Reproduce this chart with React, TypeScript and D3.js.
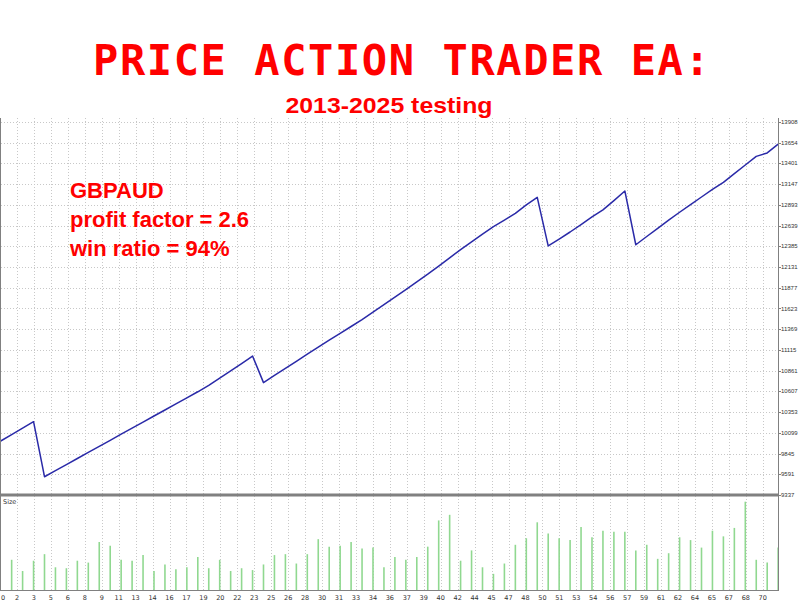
import React from 'react';
import * as d3 from 'd3';

// Balance after each trade (trade 0 = start)
const balance = [
  9999, 10077, 10157, 10235, 9561, 9636, 9710, 9784, 9859, 9933,
  10007, 10082, 10156, 10230, 10305, 10379, 10453, 10528, 10602, 10680,
  10770, 10858, 10948, 11040, 10714, 10802, 10889, 10976, 11063, 11148,
  11235, 11319, 11402, 11487, 11578, 11669, 11761, 11855, 11949, 12043,
  12143, 12244, 12344, 12439, 12533, 12626, 12705, 12788, 12892, 12985,
  12389, 12474, 12560, 12651, 12744, 12832, 12945, 13063, 12404, 12505,
  12605, 12705, 12802, 12896, 12989, 13081, 13169, 13275, 13381, 13487,
  13529, 13637,
];

// Lot size of trades 1..71
const sizes = [
  0.33, 0.21, 0.32, 0.39, 0.25, 0.24, 0.32, 0.30, 0.52, 0.48,
  0.33, 0.32, 0.38, 0.21, 0.28, 0.23, 0.25, 0.36, 0.24, 0.33,
  0.21, 0.24, 0.22, 0.28, 0.38, 0.39, 0.29, 0.39, 0.55, 0.47,
  0.48, 0.52, 0.45, 0.46, 0.25, 0.36, 0.33, 0.36, 0.47, 0.75,
  0.81, 0.32, 0.43, 0.25, 0.18, 0.29, 0.49, 0.56, 0.73, 0.61,
  0.56, 0.54, 0.68, 0.57, 0.64, 0.63, 0.63, 0.43, 0.49, 0.34,
  0.40, 0.57, 0.54, 0.46, 0.64, 0.58, 0.67, 0.95, 0.33, 0.30,
  0.46,
];

const yTicks = [
  9337, 9591, 9845, 10099, 10353, 10607, 10861, 11115, 11369, 11623,
  11877, 12131, 12385, 12639, 12893, 13147, 13401, 13654, 13908,
];

const xTickLabels = [
  '0', '2', '3', '5', '6', '8', '9', '11', '13', '14', '16', '17', '19', '20',
  '22', '23', '25', '26', '28', '30', '31', '33', '34', '36', '37', '39', '40',
  '42', '44', '45', '47', '48', '50', '51', '53', '54', '56', '57', '59', '61',
  '62', '64', '65', '67', '68', '70',
];

const infoLines = ['GBPAUD', 'profit factor = 2.6', 'win ratio = 94%'];

const W = 800;
const H = 600;
const AXIS_X = 778;
const TOP = 118;
const SEP_Y = 495;
const BOTTOM = 591;

export default function App() {
  const x = d3.scaleLinear().domain([0, balance.length - 1]).range([0.7, 778.15]);
  const y = d3.scaleLinear().domain([yTicks[0], yTicks[yTicks.length - 1]]).range([SEP_Y, 122]);
  const vy = d3.scaleLinear().domain([0, 1]).range([590.7, 497]);
  const gx = d3.scaleLinear().domain([0, xTickLabels.length - 1]).range([0, 762.75]);

  const line = d3
    .line<number>()
    .x((_, i) => x(i))
    .y((d) => y(d));

  const gridColor = '#c8c8c8';
  const axisColor = '#808080';
  const smallFont = 'Tahoma, "DejaVu Sans", Verdana, sans-serif';
  const labelFont = '"Liberation Sans", Arial, sans-serif';

  return (
    <svg
      width={W}
      height={H}
      style={{ position: 'absolute', left: 0, top: 0, background: '#ffffff' }}
    >
      <rect x={0} y={0} width={W} height={H} fill="#ffffff" />
      {/* Title */}
      <text
        x={93}
        y={75}
        fill="#ff0000"
        fontFamily='"DejaVu Sans Mono", monospace'
        fontWeight="bold"
        fontSize={42}
        letterSpacing={1.6}
      >
        PRICE ACTION TRADER EA:
      </text>
      <text
        x={389}
        y={113}
        fill="#ff0000"
        textAnchor="middle"
        fontFamily={labelFont}
        fontWeight="bold"
        fontSize={22}
        textLength={207}
        lengthAdjust="spacingAndGlyphs"
      >
        2013-2025 testing
      </text>

      {/* horizontal grid */}
      {yTicks.map((t) => (
        <line
          key={'hg' + t}
          x1={1}
          x2={AXIS_X}
          y1={Math.round(y(t)) + 0.5}
          y2={Math.round(y(t)) + 0.5}
          stroke={gridColor}
          strokeDasharray="1,2"
        />
      ))}
      {/* vertical grid */}
      {xTickLabels.map((lab, k) => (
        <line
          key={'vg' + k}
          x1={Math.round(gx(k)) + 0.5}
          x2={Math.round(gx(k)) + 0.5}
          y1={TOP}
          y2={BOTTOM}
          stroke={gridColor}
          strokeDasharray="1,2"
        />
      ))}

      {/* volume bars */}
      {sizes.map((s, i) => (
        <line
          key={'b' + i}
          x1={x(i + 1)}
          x2={x(i + 1)}
          y1={vy(0)}
          y2={vy(s)}
          stroke="#90d890"
          strokeWidth={1.6}
        />
      ))}

      {/* balance line */}
      <path d={line(balance) || ''} fill="none" stroke="#2a2aa8" strokeWidth={1.5} strokeLinejoin="round" />

      {/* frame */}
      <line x1={0.5} x2={0.5} y1={TOP} y2={BOTTOM} stroke={axisColor} strokeWidth={1} />
      <line x1={AXIS_X + 0.5} x2={AXIS_X + 0.5} y1={TOP} y2={BOTTOM} stroke={axisColor} strokeWidth={1} />
      <line x1={0} x2={AXIS_X + 1} y1={SEP_Y} y2={SEP_Y} stroke={axisColor} strokeWidth={3} />
      <line x1={0} x2={AXIS_X + 1} y1={BOTTOM - 0.5} y2={BOTTOM - 0.5} stroke={axisColor} strokeWidth={1} />

      {/* y axis labels */}
      {yTicks.map((t) => (
        <g key={'yt' + t}>
          <line x1={AXIS_X} x2={AXIS_X + 3} y1={Math.round(y(t)) + 0.5} y2={Math.round(y(t)) + 0.5} stroke={axisColor} />
          <text
            x={781}
            y={y(t)}
            dy="0.35em"
            fontSize={6}
            fill="#333333"
            fontFamily={labelFont}
          >
            {t}
          </text>
        </g>
      ))}

      {/* x axis labels */}
      {xTickLabels.map((lab, k) => (
        <text
          key={'xt' + k}
          x={k === 0 ? 1 : gx(k)}
          y={599.5}
          fontSize={6.5}
          fill="#333333"
          textAnchor={k === 0 ? 'start' : 'middle'}
          fontFamily={smallFont}
        >
          {lab}
        </text>
      ))}

      <text x={3} y={504} fontSize={6.5} fill="#333333" fontFamily={smallFont}>
        Size
      </text>

      {/* info text */}
      {infoLines.map((t, i) => (
        <text
          key={'info' + i}
          x={70}
          y={198 + i * 29}
          fill="#ff0000"
          fontFamily={labelFont}
          fontWeight="bold"
          fontSize={22}
        >
          {t}
        </text>
      ))}
    </svg>
  );
}
